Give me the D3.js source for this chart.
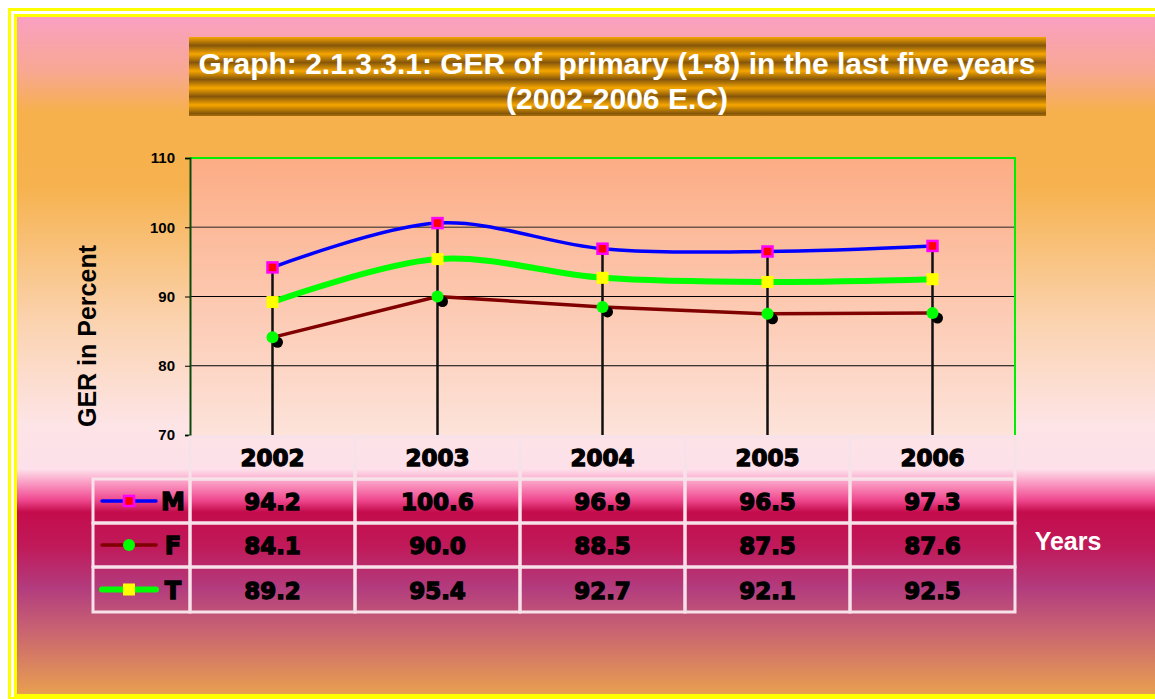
<!DOCTYPE html>
<html>
<head>
<meta charset="utf-8">
<script src="https://cdn.jsdelivr.net/npm/d3@7"></script>
<style>
  html, body { margin: 0; padding: 0; background: #fff; }
  svg { display: block; font-family: "Liberation Sans", Arial, sans-serif; }
  .heavy { font-family: "DejaVu Sans", sans-serif; font-weight: bold; }
</style>
</head>
<body>
<svg id="chart" width="1155" height="699"></svg>
<script>
const years = ["2002", "2003", "2004", "2005", "2006"];
const male = [94.2, 100.6, 96.9, 96.5, 97.3];
const female = [84.1, 90.0, 88.5, 87.5, 87.6];
const total = [89.2, 95.4, 92.7, 92.1, 92.5];
const yTicks = [70, 80, 90, 100, 110];
const titleLines = ["Graph: 2.1.3.3.1: GER of  primary (1-8) in the last five years", "(2002-2006 E.C)"];

const series = [
  { key: "M", values: male, color: "#0000ff", width: 3.5, marker: "square", fill: "#ff0000", stroke: "#ff00ff", smooth: true },
  { key: "F", values: female, color: "#800000", width: 3.5, marker: "circle", fill: "#00ff00", smooth: false },
  { key: "T", values: total, color: "#00ff00", width: 6, marker: "square", fill: "#ffff00", smooth: true }
];

const svg = d3.select("#chart");
const defs = svg.append("defs");

// page background gradient
const bg = defs.append("linearGradient").attr("id", "bg").attr("x1", 0).attr("y1", 0).attr("x2", 0).attr("y2", 1);
[[0, "#f9a0c2"], [0.08, "#f8a892"], [0.14, "#f6b04c"], [0.25, "#f6b24e"], [0.45, "#fbd3b0"], [0.6, "#fde4e6"],
 [0.665, "#fde0ea"], [0.685, "#fa9cc4"], [0.71, "#f04a90"], [0.728, "#c40c4c"], [0.78, "#c01a5a"],
 [0.84, "#b23c7e"], [0.9, "#c86272"], [1, "#eaa24e"]]
  .forEach(([o, c]) => bg.append("stop").attr("offset", o).attr("stop-color", c));

// plot area gradient
const pg = defs.append("linearGradient").attr("id", "plotbg").attr("x1", 0).attr("y1", 0).attr("x2", 0).attr("y2", 1);
pg.append("stop").attr("offset", 0).attr("stop-color", "#fcac84");
pg.append("stop").attr("offset", 1).attr("stop-color", "#fde3da");

// gold striped title
const tg = defs.append("linearGradient").attr("id", "titlebg")
  .attr("gradientUnits", "userSpaceOnUse").attr("x1", 0).attr("y1", 37).attr("x2", 0).attr("y2", 54)
  .attr("spreadMethod", "repeat");
[[0, "#f6a600"], [0.5, "#86560a"], [1, "#f6a600"]]
  .forEach(([o, c]) => tg.append("stop").attr("offset", o).attr("stop-color", c));

// frame
svg.append("rect").attr("x", 17).attr("y", 17).attr("width", 1160).attr("height", 680).attr("fill", "url(#bg)");
svg.append("rect").attr("x", 9.5).attr("y", 9.5).attr("width", 1200).attr("height", 689)
  .attr("fill", "none").attr("stroke", "#ffff00").attr("stroke-width", 3);
svg.append("rect").attr("x", 15.5).attr("y", 15.5).attr("width", 1200).attr("height", 680)
  .attr("fill", "none").attr("stroke", "#ffff00").attr("stroke-width", 3);

// title
svg.append("rect").attr("x", 189).attr("y", 37).attr("width", 857).attr("height", 79).attr("fill", "url(#titlebg)");
svg.selectAll("text.title").data(titleLines).join("text")
  .attr("class", "title")
  .attr("x", 617).attr("y", (d, i) => 74 + i * 35)
  .attr("text-anchor", "middle")
  .attr("fill", "#fff").attr("font-weight", "bold").attr("font-size", 30)
  .style("white-space", "pre")
  .text(d => d);

// scales
const x = d3.scaleBand().domain(years).range([190, 1015]);
const y = d3.scaleLinear().domain([70, 110]).range([435, 158]);
const xc = d => x(d) + x.bandwidth() / 2;

svg.append("rect").attr("x", 190).attr("y", 158).attr("width", 825).attr("height", 277).attr("fill", "url(#plotbg)");

// gridlines
svg.selectAll("line.grid").data(yTicks.filter(t => t > 70 && t < 110)).join("line")
  .attr("class", "grid")
  .attr("x1", 190).attr("x2", 1015).attr("y1", d => y(d)).attr("y2", d => y(d))
  .attr("stroke", d => d === 100 ? "#6e5648" : "#000").attr("stroke-width", d => d === 100 ? 1.5 : 1);

// plot border
svg.append("path").attr("d", "M190,158H1015V435").attr("fill", "none").attr("stroke", "#00ee00").attr("stroke-width", 2);

// y axis
const yAxis = svg.append("g").attr("transform", "translate(190,0)")
  .call(d3.axisLeft(y).tickValues(yTicks).tickSize(5).tickPadding(10));
yAxis.select(".domain").attr("stroke", "#0a4a0a").attr("stroke-width", 2);
yAxis.selectAll(".tick line").attr("stroke", "#000");
yAxis.selectAll(".tick text").attr("font-size", 15).attr("font-weight", "bold").attr("fill", "#000")
  .attr("font-family", "Liberation Sans, Arial, sans-serif");

svg.append("text").attr("transform", "translate(96,336) rotate(-90)")
  .attr("text-anchor", "middle").attr("font-size", 25).attr("font-weight", "bold").attr("fill", "#000")
  .text("GER in Percent");

// drop lines
svg.selectAll("line.drop").data(years).join("line")
  .attr("class", "drop")
  .attr("x1", xc).attr("x2", xc)
  .attr("y1", (d, i) => y(d3.max(series, s => s.values[i])))
  .attr("y2", 435)
  .attr("stroke", "#111").attr("stroke-width", 2.5);

// lines
series.forEach(s => {
  const line = d3.line().x((d, i) => xc(years[i])).y(d => y(d))
    .curve(s.smooth ? d3.curveCatmullRom.alpha(0) : d3.curveLinear);
  svg.append("path").datum(s.values).attr("d", line)
    .attr("fill", "none").attr("stroke", s.color).attr("stroke-width", s.width);
});

// markers
function drawMarker(g, s, cx, cy, shadow) {
  if (s.marker === "circle") {
    if (shadow) g.append("circle").attr("cx", cx + 5).attr("cy", cy + 5).attr("r", 5.5).attr("fill", "#000");
    g.append("circle").attr("cx", cx).attr("cy", cy).attr("r", 6).attr("fill", s.fill);
  } else if (s.stroke) {
    g.append("rect").attr("x", cx - 5).attr("y", cy - 5).attr("width", 10).attr("height", 10)
      .attr("fill", s.fill).attr("stroke", s.stroke).attr("stroke-width", 2.5);
  } else {
    g.append("rect").attr("x", cx - 6).attr("y", cy - 6).attr("width", 12).attr("height", 12).attr("fill", s.fill);
  }
}
series.forEach(s => {
  const g = svg.append("g");
  s.values.forEach((v, i) => drawMarker(g, s, xc(years[i]), y(v), true));
});

// data table
const rowTop = [437, 479, 523, 567];
const rowH = [42, 44, 44, 45];
const gridColor = "#f8e2ea";
const table = svg.append("g");

function cellText(sel) {
  return sel.attr("class", "heavy").attr("text-anchor", "middle").attr("font-size", 23)
    .attr("stroke", "#000").attr("stroke-width", 1.3).attr("fill", "#000");
}

table.selectAll("rect.hcell").data(years).join("rect")
  .attr("class", "hcell")
  .attr("x", d => x(d)).attr("y", rowTop[0]).attr("width", x.bandwidth()).attr("height", rowH[0])
  .attr("fill", "none").attr("stroke", gridColor).attr("stroke-width", 3);
table.selectAll("text.year").data(years).join("text")
  .call(cellText)
  .attr("x", xc).attr("y", rowTop[0] + 29)
  .text(d => d);

series.forEach((s, r) => {
  const top = rowTop[r + 1], h = rowH[r + 1];
  table.append("rect").attr("x", 93).attr("y", top).attr("width", 97).attr("height", h)
    .attr("fill", "none").attr("stroke", gridColor).attr("stroke-width", 3);
  table.selectAll(null).data(years).join("rect")
    .attr("x", d => x(d)).attr("y", top).attr("width", x.bandwidth()).attr("height", h)
    .attr("fill", "none").attr("stroke", gridColor).attr("stroke-width", 3);
  const cy = top + h / 2;
  table.append("line").attr("x1", 102).attr("x2", 156).attr("y1", cy).attr("y2", cy)
    .attr("stroke", s.color).attr("stroke-width", s.width).attr("stroke-linecap", "round");
  drawMarker(table, s, 129, cy, false);
  table.append("text").call(cellText)
    .attr("x", 173).attr("y", cy + 9)
    .attr("font-size", 24)
    .text(s.key);
  table.selectAll(null).data(s.values).join("text")
    .call(cellText)
    .attr("x", (d, i) => xc(years[i])).attr("y", cy + 9)
    .text(d => d.toFixed(1));
});

svg.append("text").attr("x", 1068).attr("y", 550).attr("text-anchor", "middle")
  .attr("font-size", 25).attr("font-weight", "bold").attr("fill", "#fff")
  .text("Years");
</script>
</body>
</html>
